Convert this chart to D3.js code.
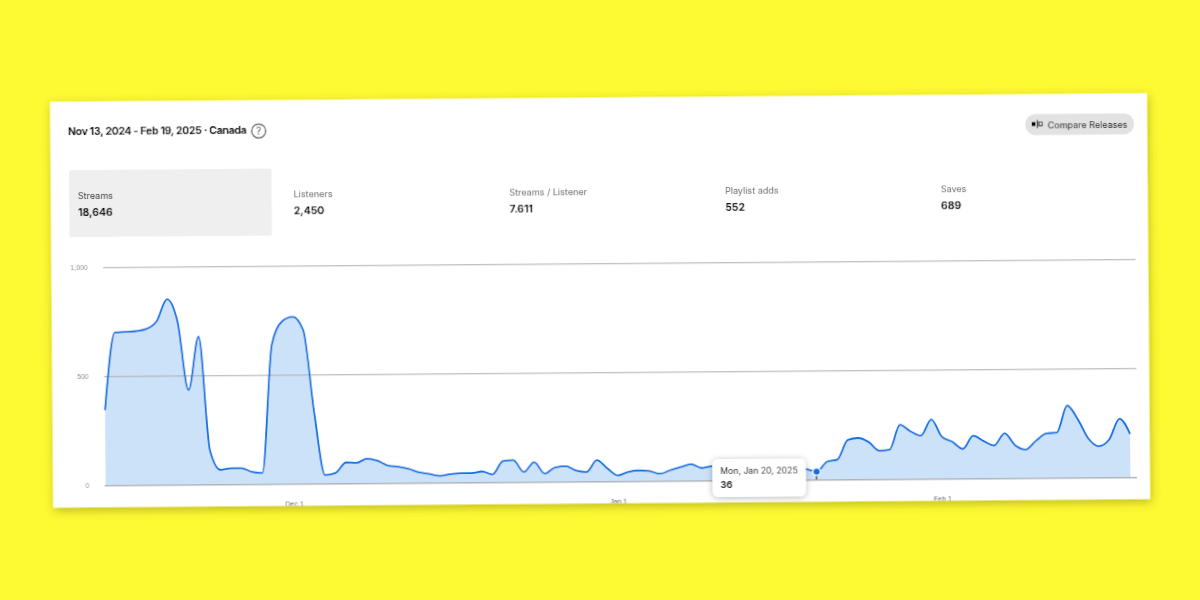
<!DOCTYPE html>
<html><head><meta charset="utf-8">
<style>html,body{margin:0;padding:0;background:#fdf932;overflow:hidden}svg{display:block}text{font-family:Inter,"Noto Sans",sans-serif}</style>
<script src="https://cdnjs.cloudflare.com/ajax/libs/d3/7.8.5/d3.min.js"></script>
</head><body><svg id="c" width="1200" height="600"></svg>
<script>
const startDate = "2024-11-13";
const streams = [344,700,702,705,715,750,850,746,433,678,157,66,73,73,55,50,640,745,765,705,325,38,47,95,93,112,102,80,74,63,47,39,30,38,42,42,49,35,95,100,45,90,37,65,70,50,43,97,58,26,42,48,45,32,48,62,75,57,65,62,68,72,66,60,58,62,56,48,36,81,91,180,189,170,130,135,248,218,198,271,192,168,135,195,170,150,206,150,130,170,203,207,330,268,179,143,173,268,198];
const yTicks = [0,500,1000];
const xTickDates = ["2024-12-01","2025-01-01","2025-02-01"];
const xTickLabels = ["Dec 1","Jan 1","Feb 1"];
const statNames = ["Streams","Listeners","Streams / Listener","Playlist adds","Saves"];
const statValues = ["18,646","2,450","7.611","552","689"];
const titleText = "Nov 13, 2024 - Feb 19, 2025 · Canada";
const tipDate = "2025-01-20", tipLabel = "Mon, Jan 20, 2025", tipValue = "36";

const day = 864e5, t0 = Date.parse(startDate);
const dates = streams.map((_,i)=>new Date(t0+i*day));
const svg = d3.select("#c");
const defs = svg.append("defs");
const sh = defs.append("filter").attr("id","cardShadow").attr("x","-5%").attr("y","-5%").attr("width","110%").attr("height","115%");
sh.append("feDropShadow").attr("dx",1).attr("dy",3).attr("stdDeviation",5).attr("flood-color","#4a4a00").attr("flood-opacity",0.36);
const ts = defs.append("filter").attr("id","tipShadow").attr("x","-20%").attr("y","-30%").attr("width","140%").attr("height","170%");
ts.append("feDropShadow").attr("dx",0).attr("dy",1).attr("stdDeviation",3).attr("flood-color","#000").attr("flood-opacity",0.28);
const soft = defs.append("filter").attr("id","soft").attr("filterUnits","userSpaceOnUse").attr("x",0).attr("y",0).attr("width",1200).attr("height",600);
soft.append("feGaussianBlur").attr("stdDeviation",0.22);
const card = {x:51.6,y:97.5,w:1096.9,h:405.8};
defs.append("clipPath").attr("id","cardClip").append("rect").attr("x",card.x).attr("y",card.y).attr("width",card.w).attr("height",card.h);

const root = svg.append("g").attr("transform","rotate(-0.45 600 300)").attr("filter","url(#soft)");
root.append("rect").attr("x",card.x).attr("y",card.y).attr("width",card.w).attr("height",card.h).attr("fill","#fff").attr("filter","url(#cardShadow)");
const g = root.append("g").attr("clip-path","url(#cardClip)");

// header
g.append("text").attr("x",69.3).attr("y",130.8).attr("font-size",10.4).attr("letter-spacing",-0.25).attr("font-weight",700).attr("fill","#000").text(titleText);
const q = g.append("g").attr("transform","translate(260,128.3)");
q.append("circle").attr("r",7).attr("fill","none").attr("stroke","#444").attr("stroke-width",1.2);
q.append("text").attr("text-anchor","middle").attr("y",3.5).attr("font-size",10).attr("fill","#333").text("?");

// button
g.append("rect").attr("x",1026.5).attr("y",117.5).attr("width",109).attr("height",21).attr("rx",10.5).attr("fill","#e2e2e2");
g.append("rect").attr("x",1033).attr("y",125.5).attr("width",4).attr("height",4).attr("fill","#000");
g.append("rect").attr("x",1038).attr("y",123.5).attr("width",1.2).attr("height",8).attr("fill","#000");
g.append("rect").attr("x",1040.2).attr("y",125.5).attr("width",3.4).attr("height",3.6).attr("fill","none").attr("stroke","#000").attr("stroke-width",0.9);
g.append("text").attr("x",1049).attr("y",131.7).attr("font-size",9).attr("fill","#111").text("Compare Releases");

// stats
g.append("rect").attr("x",70).attr("y",166).attr("width",202.5).attr("height",67).attr("rx",2).attr("fill","#efefef");
const statX = d3.scalePoint().domain(statNames).range([78.7,941.7]);
statNames.forEach((n,i)=>{
  g.append("text").attr("x",statX(n)).attr("y",194.6).attr("font-size",9.05).attr("fill",i===0?"#333":"#666").text(n);
  g.append("text").attr("x",statX(n)).attr("y",211.8).attr("font-size",10.4).attr("font-weight",700).attr("fill","#000").text(statValues[i]);
});

// chart
const x = d3.scaleUtc().domain([dates[0],dates[dates.length-1]]).range([104.2,1129]);
const y = d3.scaleLinear().domain([0,1000]).range([481.2,263.2]);
const curve = d3.curveMonotoneX;
g.append("path").datum(streams).attr("fill","#cce2f9")
  .attr("d",d3.area().x((d,i)=>x(dates[i])).y0(y(0)).y1(d=>y(d)).curve(curve));

const yAxis = d3.axisLeft(y).tickValues(yTicks).tickFormat(d3.format(",")).tickSize(0).tickPadding(15.5);
const ya = g.append("g").attr("transform","translate(103.3,0)").call(yAxis);
ya.select(".domain").remove();
ya.selectAll("text").attr("font-size",6.8).attr("fill","#8a8a8a").style("font-family","Liberation Sans, sans-serif");
ya.selectAll(".tick").append("line").attr("x1",0).attr("x2",1032.5)
  .attr("stroke",d=>d===0?"#b0b4ba":"#adadad").attr("stroke-width",d=>d===0?1.6:1.1);

g.append("path").datum(streams).attr("fill","none").attr("stroke","#0a6fe0").attr("stroke-width",1.8).attr("stroke-linejoin","round")
  .attr("d",d3.line().x((d,i)=>x(dates[i])).y(d=>y(d)).curve(curve));

const xAxis = d3.axisBottom(x).tickValues(xTickDates.map(d=>new Date(Date.parse(d)))).tickFormat((d,i)=>xTickLabels[i]).tickSize(0);
const xa = g.append("g").attr("transform",`translate(0,${y(0)})`).call(xAxis);
xa.select(".domain").remove();
xa.selectAll("text").attr("font-size",7).attr("fill","#555").attr("dy",0).attr("y",23).style("font-family","Liberation Sans, sans-serif");

// marker and tooltip
const tipIndex = Math.round((Date.parse(tipDate)-t0)/day);
const mx = x(dates[tipIndex]), my = y(streams[tipIndex]);
g.append("line").attr("x1",mx).attr("x2",mx).attr("y1",my).attr("y2",y(0)).attr("stroke","#555").attr("stroke-width",1.6);
g.append("circle").attr("cx",mx).attr("cy",my).attr("r",3.8).attr("fill","#0a6fe0").attr("stroke","#fff").attr("stroke-width",1.2);
g.append("rect").attr("x",711).attr("y",460).attr("width",93.5).attr("height",38).attr("rx",6).attr("fill","#fff").attr("filter","url(#tipShadow)");
g.append("text").attr("x",719).attr("y",475).attr("font-size",8.7).attr("fill","#222").text(tipLabel);
g.append("text").attr("x",719).attr("y",489.5).attr("font-size",9.3).attr("font-weight",700).attr("fill","#111").text(tipValue);
</script></body></html>
